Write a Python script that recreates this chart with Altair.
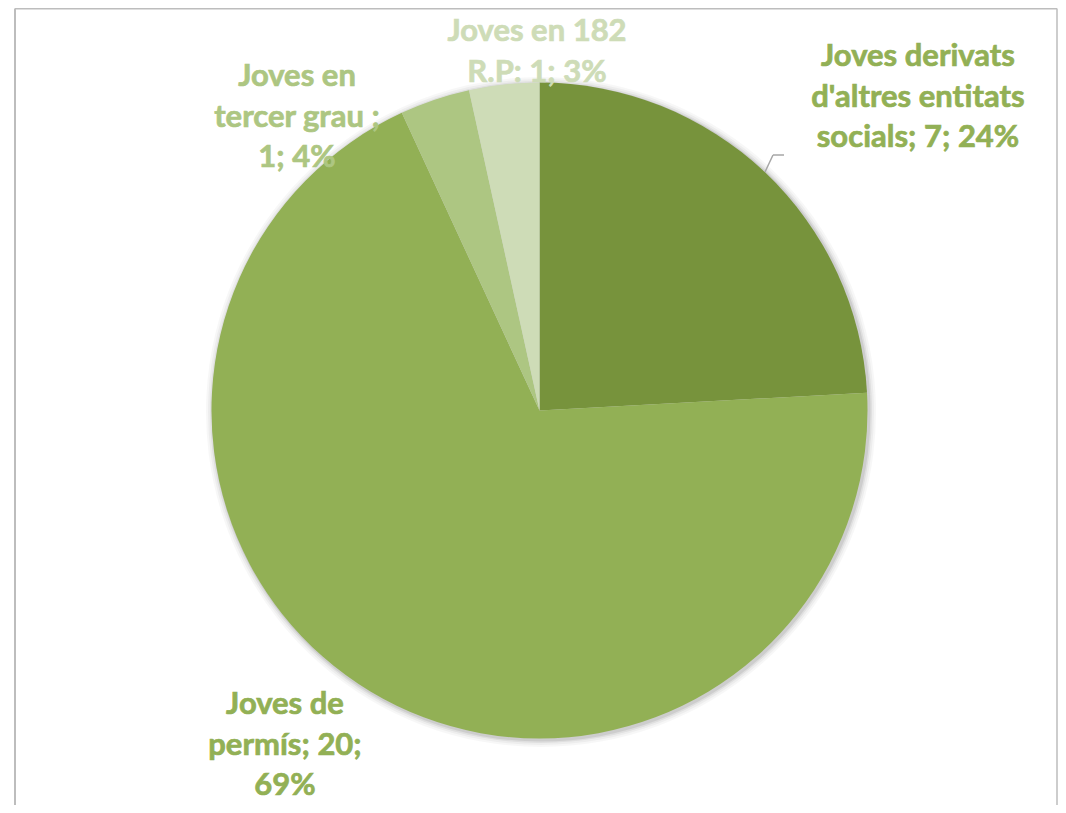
import altair as alt
import pandas as pd

# Data
categories = ["Joves derivats d'altres entitats socials", "Joves de permís",
              "Joves en tercer grau", "Joves en 182 R.P."]
values = [7, 20, 1, 1]
percent_labels = ["24%", "69%", "4%", "3%"]
label_lines = [
    ["Joves derivats", "d'altres entitats", "socials; 7; 24%"],
    ["Joves de", "permís; 20;", "69%"],
    ["Joves en", "tercer grau ;", "1; 4%"],
    ["Joves en 182", "R.P: 1; 3%"],
]
colors = ["#77933C", "#92B055", "#ADC682", "#CEDCB7"]
label_colors = ["#92B055", "#92B055", "#ADC682", "#CEDCB7"]

df = pd.DataFrame({"cat": categories, "value": values, "order": list(range(len(values)))})

W, H = 1050, 797
CX, CY, R = 531.5, 402.5, 328

# layout (pixel positions of label blocks, view coords)
label_pos = [(910, 49), (277, 697), (289, 69), (529, 24)]

base = alt.Chart(df)

shadow_layers = []
for extra, op in [(7, 0.03), (5, 0.04), (3, 0.06), (1.5, 0.08)]:
    shadow_layers.append(
        base.mark_arc(color="#000000", opacity=op, radius=R + extra).encode(
            theta=alt.Theta("value:Q", stack=True),
            x=alt.value(CX + 1.5), y=alt.value(CY + 1.5),
        )
    )

pie = base.mark_arc(radius=R).encode(
    theta=alt.Theta("value:Q", stack=True),
    order=alt.Order("order:Q"),
    color=alt.Color("cat:N", scale=alt.Scale(domain=categories, range=colors), legend=None),
    x=alt.value(CX), y=alt.value(CY),
)

text_layers = []
for lines, col, (lx, ly) in zip(label_lines, label_colors, label_pos):
    t = alt.Chart(pd.DataFrame({"t": [lines]})).mark_text(
        font="Lato", fontWeight="bold", fontSize=31, color=col,
        stroke=col, strokeWidth=0.7,
        align="center", baseline="middle", lineHeight=40.5,
    ).encode(text="t:N", x=alt.value(lx), y=alt.value(ly))
    text_layers.append(t)

leader_segs = [
    alt.Chart(pd.DataFrame({"a": [0]})).mark_rule(color="#A6A6A6", strokeWidth=1.5).encode(
        x=alt.value(757), x2=alt.value(765), y=alt.value(164), y2=alt.value(147)),
    alt.Chart(pd.DataFrame({"a": [0]})).mark_rule(color="#A6A6A6", strokeWidth=1.5).encode(
        x=alt.value(765), x2=alt.value(776), y=alt.value(147), y2=alt.value(147)),
]

frame = [
    alt.Chart(pd.DataFrame({"a": [0]})).mark_rule(color="#BDBDBD", strokeWidth=2).encode(
        x=alt.value(7), x2=alt.value(7), y=alt.value(0.5), y2=alt.value(H)),
    alt.Chart(pd.DataFrame({"a": [0]})).mark_rule(color="#BDBDBD", strokeWidth=1.5).encode(
        x=alt.value(7), x2=alt.value(1049), y=alt.value(0.75), y2=alt.value(0.75)),
    alt.Chart(pd.DataFrame({"a": [0]})).mark_rule(color="#BDBDBD", strokeWidth=1.5).encode(
        x=alt.value(1049), x2=alt.value(1049), y=alt.value(0.5), y2=alt.value(H)),
]

chart = alt.layer(*shadow_layers, pie, *leader_segs, *text_layers, *frame).properties(
    width=W, height=H, autosize=alt.AutoSizeParams(type="none"), padding=0,
    background="#FFFFFF",
).configure_view(stroke=None)

chart.save("out.html", embed_options={"renderer": "svg", "actions": False})
